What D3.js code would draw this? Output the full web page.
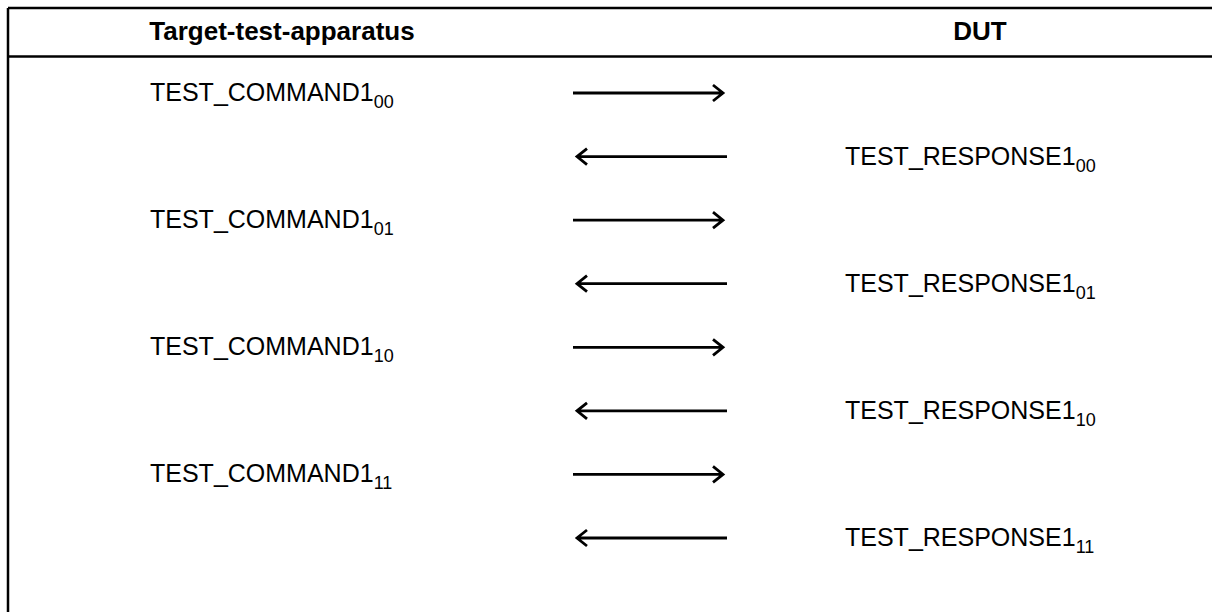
<!DOCTYPE html>
<html lang="en">
<head>
	<meta charset="UTF-8">
	<title>Test sequence</title>
	<style>
		body { margin: 0; background: #fff; }
		text { font-family: Arial, "Liberation Sans", sans-serif; fill: #000; }
	</style>
</head>
<body>
	<svg width="1212" height="612"></svg>

	<script src="https://d3js.org/d3.v7.min.js"></script>
	<script>
		// column headers
		var headers = ["Target-test-apparatus", "DUT"];
		// message names and their subscripts, in order of exchange
		var commandName = "TEST_COMMAND1";
		var responseName = "TEST_RESPONSE1";
		var codes = ["00", "01", "10", "11"];

		// each code gives one command (right) then one response (left)
		var steps = [];
		codes.forEach(function(c){
			steps.push({name: commandName, sub: c, dir: "right"});
			steps.push({name: responseName, sub: c, dir: "left"});
		});

		var svg = d3.select("svg");
		var width = +svg.attr("width");
		var height = +svg.attr("height");

		// rows go down the page
		var y = d3.scaleLinear()
			.domain([0, steps.length - 1])
			.range([93, 538]);

		// header columns
		var colX = d3.scaleOrdinal()
			.domain(headers)
			.range([282, 980]);

		// table frame
		svg.append("line")
			.attr("x1", 8).attr("x2", width)
			.attr("y1", 8).attr("y2", 8)
			.attr("stroke", "#000").attr("stroke-width", 2.5);
		svg.append("line")
			.attr("x1", 8).attr("x2", width)
			.attr("y1", 56.5).attr("y2", 56.5)
			.attr("stroke", "#000").attr("stroke-width", 2.5);
		svg.append("line")
			.attr("x1", 8).attr("x2", 8)
			.attr("y1", 8).attr("y2", height)
			.attr("stroke", "#000").attr("stroke-width", 2.5);

		svg.selectAll(".hdr")
			.data(headers)
			.enter()
			.append("text")
			.attr("class", "hdr")
			.attr("x", function(d){ return colX(d); })
			.attr("y", 40)
			.attr("text-anchor", "middle")
			.style("font-weight", "bold")
			.style("font-size", "26px")
			.text(function(d){ return d; });

		var gs = svg.selectAll(".step")
			.data(steps)
			.enter()
			.append("g")
			.attr("class", "step")
			.attr("transform", function(d, i){ return "translate(0," + y(i) + ")"; });

		// message labels with subscript
		var lbl = gs.append("text")
			.attr("x", function(d){ return d.dir == "right" ? 150 : 845; })
			.attr("y", 8)
			.style("font-size", "25px");
		lbl.append("tspan").text(function(d){ return d.name; });
		lbl.append("tspan")
			.attr("dy", 7)
			.style("font-size", "18px")
			.text(function(d){ return d.sub; });

		// arrows
		var arrowLine = d3.line();
		gs.append("path")
			.attr("fill", "none")
			.attr("stroke", "#000")
			.attr("stroke-width", 2.8)
			.attr("d", function(d){
				if (d.dir == "right") {
					return arrowLine([[573, 0], [723, 0]]) + arrowLine([[713, -8], [723, 0], [713, 8]]);
				}
				return arrowLine([[727, 0], [577, 0]]) + arrowLine([[587, -8], [577, 0], [587, 8]]);
			});
	</script>
</body>
</html>
